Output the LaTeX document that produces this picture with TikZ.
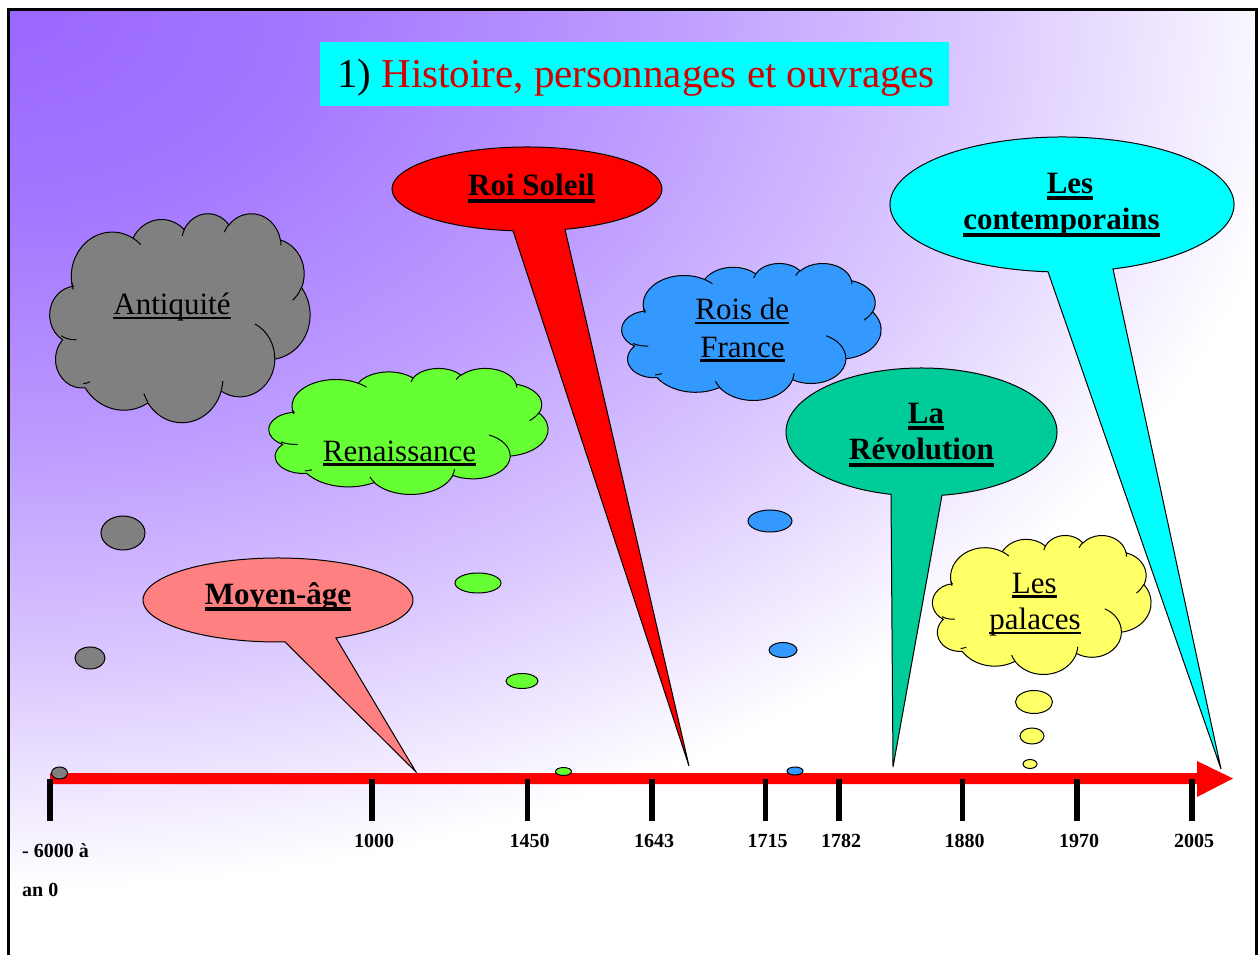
\documentclass[tikz,border=0pt]{standalone}
\usepackage{fontspec}
\setmainfont{Liberation Serif}
\definecolor{bgpurple}{RGB}{153,102,255}
\definecolor{ttred}{RGB}{210,0,0}
\definecolor{cgray}{RGB}{128,128,128}
\definecolor{cgreen}{RGB}{102,255,51}
\definecolor{cblue}{RGB}{51,153,255}
\definecolor{cyellow}{RGB}{255,255,102}
\definecolor{csalmon}{RGB}{255,128,128}
\definecolor{cteal}{RGB}{0,204,153}
\definecolor{ccyan}{RGB}{0,255,255}
\pgfdeclareradialshading{bgsh}{\pgfpoint{0bp}{0bp}}{rgb(0bp)=(0.6,0.4,1); rgb(6.25bp)=(0.651,0.475,1); rgb(12.5bp)=(0.741,0.612,1); rgb(18.75bp)=(0.859,0.788,1); rgb(25bp)=(1,1,1); rgb(50bp)=(1,1,1)}
\newcommand\myul[1]{\setbox0\hbox{#1}\rlap{\rule[-0.14em]{\wd0}{0.09em}}\box0}
\newcommand\myulb[1]{\setbox0\hbox{#1}\rlap{\rule[-0.21em]{\wd0}{0.11em}}\box0}
% elliptical arc with "visual" start angle and sweep (as in PowerPoint geometry)
\newcommand\carc[4]{%
  \pgfmathsetmacro\cxa{atan2((#1)*sin(#3),(#2)*cos(#3))}%
  \pgfmathsetmacro\cxb{atan2((#1)*sin((#3)+(#4)),(#2)*cos((#3)+(#4)))}%
  \pgfmathsetmacro\cxb{\cxb-360*floor((\cxb-\cxa)/360)}%
  \pgfpatharc{\cxa}{\cxb}{#1pt and #2pt}}
\newcommand\cloudoutline{%
 \pgfpathmoveto{\pgfpoint{39pt}{143.7pt}}%
 \carc{67.53}{91.90}{-190.48748}{123.78053}%
 \carc{53.33}{72.67}{-144.10238}{89.94523}%
 \carc{43.65}{59.45}{-145.80792}{99.72302}%
 \carc{48.57}{65.95}{-130.98607}{117.24173}%
 \carc{53.33}{72.73}{-78.70888}{109.02692}%
 \carc{67.75}{92.20}{-46.26725}{130.269}%
 \carc{57.85}{78.67}{0.62502}{114.03333}%
 \carc{67.52}{92.15}{22.4516}{115.17255}%
 \carc{77.20}{105.43}{66.24263}{71.01972}%
 \carc{43.60}{59.18}{-274.94208}{146.73557}%
 \carc{43.45}{59.45}{-246.8285}{152.51885}%
 \pgfpathclose}
\newcommand\cloudcreases{%
 \pgfpathmoveto{\pgfpoint{46.93pt}{261.77pt}}\carc{43.45}{59.45}{86.742}{26.4295}%
 \pgfpathmoveto{\pgfpoint{69.28pt}{348.99pt}}\carc{43.60}{59.18}{73.61047}{11.44747}%
 \pgfpathmoveto{\pgfpoint{164.78pt}{390.90pt}}\carc{67.52}{92.15}{137.62415}{14.0811}%
 \pgfpathmoveto{\pgfpoint{288.27pt}{347.51pt}}\carc{67.52}{92.15}{6.45327}{15.99835}%
 \pgfpathmoveto{\pgfpoint{341.29pt}{229.54pt}}\carc{57.85}{78.67}{-70.29235}{70.91737}%
 \pgfpathmoveto{\pgfpoint{417.98pt}{153.54pt}}\carc{53.33}{72.73}{30.31803}{27.7515}%
 \pgfpathmoveto{\pgfpoint{383.24pt}{54.26pt}}\carc{48.57}{65.95}{-13.74433}{14.8589}%
 \pgfpathmoveto{\pgfpoint{290.78pt}{39.52pt}}\carc{48.57}{65.95}{-149.18145}{18.19537}%
 \pgfpathmoveto{\pgfpoint{221.41pt}{47.20pt}}\carc{43.65}{59.45}{-163.49427}{17.68635}%
 \pgfpathmoveto{\pgfpoint{140.00pt}{51.92pt}}\carc{67.53}{91.90}{-66.70695}{12.31935}%
 \pgfpathmoveto{\pgfpoint{41.27pt}{157.89pt}}\carc{67.53}{91.90}{157.65435}{11.85817}%
}
\newcommand\pptcloud[5]{%
 \begin{scope}[shift={(#1,#2)},xscale=#3/432,yscale=-#4/432]
   \pgfsetfillcolor{#5}\pgfsetstrokecolor{black}\pgfsetlinewidth{1pt}%
   \cloudoutline\pgfusepath{fill,stroke}%
   \cloudcreases\pgfusepath{stroke}%
 \end{scope}}
\begin{document}
\begin{tikzpicture}[x=1pt,y=1pt,
  outl/.style={draw=black,line width=1pt},
  lbl/.style={font=\fontsize{20}{24}\selectfont\bfseries,anchor=base,inner sep=0pt},
  ctxt/.style={font=\fontsize{31}{37}\selectfont,anchor=base,inner sep=0pt},
  btxt/.style={font=\fontsize{31}{37}\selectfont\bfseries,anchor=base,inner sep=0pt},
  tick/.style={line width=5.5pt}]
\useasboundingbox (0,0) rectangle (1258,954);
% background
\begin{scope}
  \clip (8,-20) rectangle (1256,944);
  \fill[white] (8,-20) rectangle (1256,944);
  \shade[shading=bgsh] (8,944) ellipse [x radius=1300,y radius=880];
\end{scope}
\draw[line width=3pt] (8,-20) rectangle (1256,944);
% title
\fill[ccyan] (320,848) rectangle (949,912);
\node[anchor=base,inner sep=0pt,font=\fontsize{41}{49}\selectfont] (title) at (636,866) {1) \textcolor{ttred}{Histoire, personnages et ouvrages}};
% clouds
\pptcloud{48}{741}{262}{209}{cgray}
\pptcloud{267}{586}{281}{126}{cgreen}
\pptcloud{620}{691}{261}{137}{cblue}
\pptcloud{931}{419}{220}{139}{cyellow}
% thought bubbles
\draw[outl,fill=cgray] (123,421) ellipse [x radius=22,y radius=17];
\draw[outl,fill=cgray] (90,296) ellipse [x radius=15,y radius=11];
\draw[outl,fill=cgreen] (478,371) ellipse [x radius=23,y radius=10];
\draw[outl,fill=cgreen] (522,273) ellipse [x radius=16,y radius=7.5];
\draw[outl,fill=cblue] (770,433) ellipse [x radius=22,y radius=11];
\draw[outl,fill=cblue] (783,304) ellipse [x radius=14,y radius=7.5];
\draw[outl,fill=cyellow] (1034,252) ellipse [x radius=18.5,y radius=11.5];
\draw[outl,fill=cyellow] (1032,218) ellipse [x radius=12,y radius=8];
% callouts
\coordinate (tipRS) at (689,188);
\coordinate (tipLC) at (1221,185);
\coordinate (tipLR) at (893,187);
\coordinate (tipMA) at (416,182);
\draw[outl,fill=red] (527,765) ++(286.35:135 and 42) arc[start angle=286.35,end angle=624.05,x radius=135,y radius=42] -- (tipRS) -- cycle;
\draw[outl,fill=ccyan] (1062,749.5) ++(287.25:172 and 67.5) arc[start angle=287.25,end angle=625.33,x radius=172,y radius=67.5] -- (tipLC) -- cycle;
\draw[outl,fill=cteal] (921.5,522) ++(278.70:135.5 and 64) arc[start angle=278.70,end angle=616.99,x radius=135.5,y radius=64] -- (tipLR) -- cycle;
\draw[outl,fill=csalmon] (278,354) ++(295.44:135 and 42) arc[start angle=295.44,end angle=632.97,x radius=135,y radius=42] -- (tipMA) -- cycle;
% axis
\fill[red] (50,170) -- (1197,170) -- (1197,157) -- (1233,175.5) -- (1197,193) -- (1197,181) -- (50,181) -- cycle;
\foreach \x in {50,372,527.5,652,765.5,839,962.5,1077,1192} \draw[tick] (\x,175) -- (\x,133);
\draw[outl,fill=cgray] (59.5,181) ellipse [x radius=8,y radius=6];
\draw[outl,fill=cgreen] (563.5,182.5) ellipse [x radius=8,y radius=4];
\draw[outl,fill=cblue] (795,183) ellipse [x radius=8,y radius=4];
\draw[outl,fill=cyellow] (1030,190) ellipse [x radius=7,y radius=4.5];
% axis labels
\node[lbl,anchor=base west] (l6000) at (22,96.7) {- 6000 à};
\node[lbl,anchor=base west] (lan0) at (22,58) {an 0};
\node[lbl] (l1000) at (374,106.7) {1000};
\node[lbl] (l1450) at (529.5,106.7) {1450};
\node[lbl] (l1643) at (654,106.7) {1643};
\node[lbl] (l1715) at (767.5,106.7) {1715};
\node[lbl] (l1782) at (841,106.7) {1782};
\node[lbl] (l1880) at (964.5,106.7) {1880};
\node[lbl] (l1970) at (1079,106.7) {1970};
\node[lbl] (l2005) at (1194,106.7) {2005};
% texts
\node[ctxt] (tAnt) at (172,639) {\myul{Antiquité}};
\node[ctxt] (tRen) at (399.5,492.5) {\myul{Renaissance}};
\node[ctxt] (tRois1) at (742.3,634) {\myul{Rois de}};
\node[ctxt] (tRois2) at (742.5,596.7) {\myul{France}};
\node[ctxt] (tPal1) at (1034.3,360.7) {\myul{Les}};
\node[ctxt] (tPal2) at (1035,324) {\myul{palaces}};
\node[btxt] (tRS) at (531.5,758) {\myulb{Roi Soleil}};
\node[btxt] (tLC1) at (1070,760.7) {\myulb{Les}};
\node[btxt] (tLC2) at (1061.5,724) {\myulb{contemporains}};
\node[btxt] (tLR1) at (926,530.7) {\myulb{La}};
\node[btxt] (tLR2) at (921.5,494) {\myulb{Révolution}};
\node[btxt] (tMA) at (278,349.7) {\myulb{Moyen-âge}};
\end{tikzpicture}
\end{document}
